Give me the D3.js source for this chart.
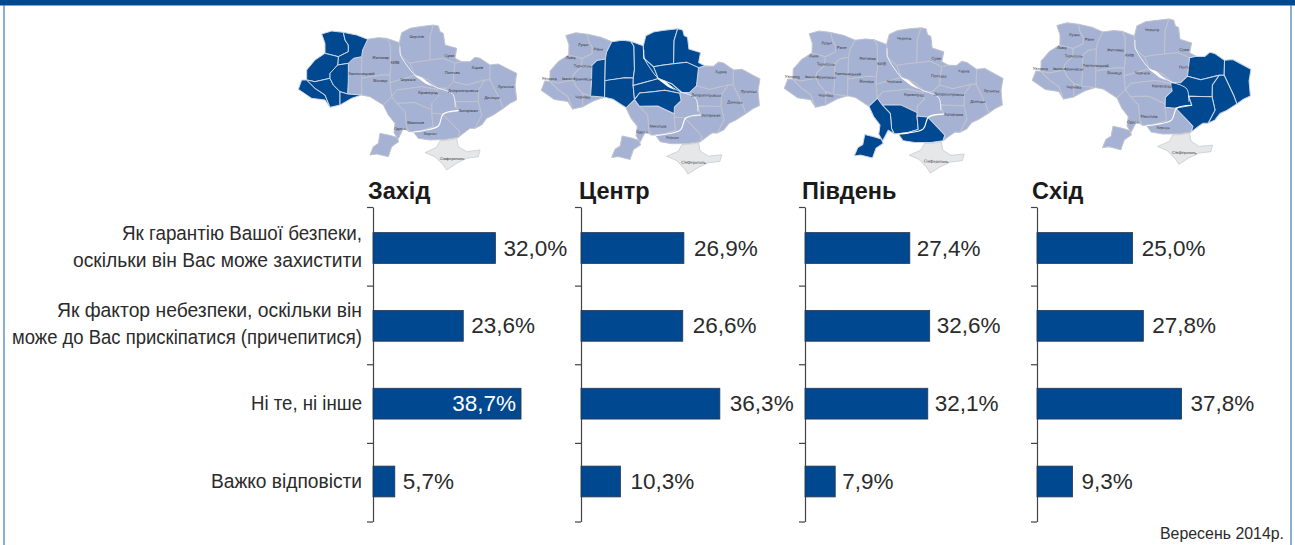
<!DOCTYPE html>
<html><head><meta charset="utf-8">
<script src="https://cdn.jsdelivr.net/npm/d3@7"></script>
<style>html,body{margin:0;padding:0;background:#fff}svg{display:block}</style>
</head><body><svg id="c" width="1295" height="545"></svg>
<script>
const categories = [
  ["Як гарантію Вашої безпеки,", "оскільки він Вас може захистити"],
  ["Як фактор небезпеки, оскільки він", "може до Вас прискіпатися (причепитися)"],
  ["Ні те, ні інше"],
  ["Важко відповісти"]
];
const categoryWidths = [[240,289],[305,350],[111],[151]];
const panels = ["Захід", "Центр", "Південь", "Схід"];
const zakhid  = [32.0, 23.6, 38.7, 5.7];
const tsentr  = [26.9, 26.6, 36.3, 10.3];
const pivden  = [27.4, 32.6, 32.1, 7.9];
const skhid   = [25.0, 27.8, 37.8, 9.3];
const seriesValues = [zakhid, tsentr, pivden, skhid];
const footnote = "Вересень 2014р.";

const oblasts = {
  Volyn:[[95,102],[125,93],[160,97],[165,120],[175,135],[175,155],[145,170],[105,160],[105,130]],
  Rivne:[[160,97],[200,105],[233,118],[218,150],[215,170],[190,175],[175,190],[143,195],[145,170],[175,155],[175,135],[165,120]],
  Lviv:[[105,160],[75,180],[50,210],[50,240],[75,245],[120,235],[120,220],[143,195],[145,170]],
  Zakarpattia:[[50,240],[35,240],[25,268],[65,295],[105,300],[120,322],[105,285],[75,265]],
  Frankivsk:[[50,240],[75,245],[120,235],[130,255],[150,275],[150,315],[120,322],[105,285],[75,265]],
  Ternopil:[[143,195],[175,190],[175,240],[173,282],[150,275],[130,255],[120,235],[120,220]],
  Chernivtsi:[[150,275],[173,282],[215,285],[185,295],[150,315]],
  Khmelnytskyi:[[175,190],[190,175],[215,170],[215,235],[215,285],[173,282],[175,240]],
  Zhytomyr:[[233,118],[265,113],[290,115],[300,130],[303,200],[300,225],[275,225],[215,235],[215,170],[218,150]],
  Vinnytsia:[[215,235],[275,225],[300,225],[300,248],[305,290],[280,315],[240,290],[215,285]],
  Kyiv:[[290,115],[328,128],[330,165],[360,190],[375,225],[355,232],[300,248],[300,225],[303,200],[300,130]],
  Chernihiv:[[335,98],[360,85],[390,80],[430,75],[420,110],[420,180],[385,185],[360,190],[330,165],[328,128]],
  Sumy:[[430,75],[445,78],[450,95],[460,100],[465,135],[500,145],[495,175],[515,185],[495,190],[460,175],[420,180],[420,110]],
  Poltava:[[385,185],[420,180],[460,175],[495,190],[490,245],[470,265],[445,265],[415,240],[375,225],[360,190]],
  Cherkasy:[[300,248],[355,232],[375,225],[415,240],[445,265],[440,268],[395,260],[360,265],[320,270],[305,290]],
  Kharkiv:[[515,185],[540,185],[555,172],[570,175],[600,195],[600,240],[585,240],[530,255],[490,245],[495,190]],
  Luhansk:[[600,195],[625,192],[660,210],[680,220],[675,255],[680,300],[660,310],[640,325],[630,300],[600,240]],
  Donetsk:[[585,240],[600,240],[630,300],[640,325],[610,345],[590,355],[575,375],[555,385],[575,345],[565,305],[565,270]],
  Dnipro:[[445,265],[470,265],[490,245],[530,255],[585,240],[565,270],[565,305],[495,305],[505,332],[455,342],[425,340],[425,330],[425,310],[445,290],[440,268]],
  Kirovohrad:[[305,290],[320,270],[360,265],[395,260],[440,268],[445,290],[425,310],[425,330],[375,308],[320,310]],
  Mykolaiv:[[320,310],[375,308],[425,330],[425,340],[430,380],[400,390],[370,395],[358,395],[350,380],[345,335]],
  OdesaNorth:[[280,315],[305,290],[320,310],[345,335],[350,380],[358,395],[340,385],[332,402],[324,418],[312,398],[315,370],[295,345]],
  OdesaSouth:[[270,400],[295,405],[320,412],[326,425],[305,440],[295,470],[260,462],[240,465],[250,440],[265,430]],
  Kherson:[[425,340],[455,342],[460,345],[490,375],[510,395],[505,412],[470,418],[420,420],[385,415],[370,395],[400,390],[430,380]],
  Zaporizhzhia:[[495,305],[565,305],[575,345],[555,385],[540,385],[520,400],[505,412],[510,395],[490,375],[460,345],[455,342],[505,332]]
};
const crimea = [[405,458],[440,442],[450,422],[480,420],[500,415],[505,440],[530,455],[570,450],[565,470],[530,475],[500,490],[470,510],[460,495],[435,470]];
const dnipro = [[330,140],[332,165],[350,195],[375,225],[400,238],[420,252],[445,265],[470,272],[490,285],[496,322]];
const lower = [[505,332],[460,342],[445,378],[400,392],[370,396]];
const lake = [[372,226],[395,232],[428,260],[405,250]];
const highlighted = [
  ["Volyn","Rivne","Lviv","Zakarpattia","Frankivsk","Ternopil","Chernivtsi"],
  ["Khmelnytskyi","Zhytomyr","Vinnytsia","Kyiv","Chernihiv","Sumy","Poltava","Cherkasy","Kirovohrad"],
  ["Mykolaiv","OdesaNorth","OdesaSouth","Kherson"],
  ["Kharkiv","Luhansk","Donetsk","Dnipro","Zaporizhzhia"]
];
const cityLabels = [
  ["Чернігів",380,108,"Chernihiv"],["Суми",478,165,"Sumy"],["Харків",562,201,"Kharkiv"],["Полтава",487,218,"Poltava"],
  ["Луганськ",647,258,"Luhansk"],["Донецьк",606,291,"Donetsk"],["Дніпропетровськ",520,272,"Dnipro"],["Запоріжжя",535,332,"Zaporizhzhia"],
  ["Кіровоград",414,276,"Kirovohrad"],["Черкаси",354,238,"Cherkasy"],["КИЇВ",315,186,"Kyiv"],["Житомир",272,171,"Zhytomyr"],
  ["Вінниця",271,240,"Vinnytsia"],["Хмельницький",214,219,"Khmelnytskyi"],["Одеса",329,386,"OdesaNorth"],["Миколаїв",377,368,"Mykolaiv"],
  ["Херсон",420,401,"Kherson"],["Сімферополь",486,474,"Crimea"],["Луцьк",148,128,"Volyn"],["Рівне",194,141,"Rivne"],
  ["Львів",111,168,"Lviv"],["Тернопіль",148,192,"Ternopil"],["Івано-Франківськ",132,231,"Frankivsk"],["Ужгород",48,232,"Zakarpattia"],["Чернівці",150,285,"Chernivtsi"]
];
// dx, dy, rotation of each small map relative to the first
const mapPlacement = [[290,0,0],[533,1,1.2],[776,-1,1.6],[1024,-9,1.3]];

const ink = "#2b2b2b", blue = "#004990", lightBlue = "#a6b2d4", seam = "#bfc3cc";
const sans = "'Liberation Sans',Arial,sans-serif";

const svg = d3.select("#c");
svg.append("rect").attr("x",0).attr("y",0).attr("width",1295).attr("height",5.5).attr("fill",blue);
svg.append("line").attr("x1",4).attr("x2",4).attr("y1",5).attr("y2",545).attr("stroke","#3f78b5").attr("stroke-width",1.2);
svg.append("line").attr("x1",1291).attr("x2",1291).attr("y1",5).attr("y2",545).attr("stroke","#3f78b5").attr("stroke-width",1.2);

// maps
const mx = d3.scaleLinear().domain([0,3]).range([0,1]);
const my = d3.scaleLinear().domain([0,3]).range([0,1]);
const outline = d3.line().x(d=>mx(d[0])).y(d=>my(d[1])).curve(d3.curveLinearClosed);
const stream = d3.line().x(d=>mx(d[0])).y(d=>my(d[1])).curve(d3.curveCatmullRom);

mapPlacement.forEach((p,i)=>{
  const g = svg.append("g").attr("transform",`translate(${p[0]},${p[1]}) rotate(${p[2]} 10 90)`);
  const hot = highlighted[i];
  g.append("path").attr("d",outline(crimea)).attr("fill","#e6e7e9").attr("stroke","#c9cbcf").attr("stroke-width",0.8);
  const names = Object.keys(oblasts);
  const ordered = names.filter(n=>!hot.includes(n)).concat(names.filter(n=>hot.includes(n)));
  g.selectAll("path.ob").data(ordered).enter().append("path").attr("class","ob")
    .attr("d",n=>outline(oblasts[n]))
    .attr("fill",n=>hot.includes(n)?blue:lightBlue)
    .attr("stroke",n=>hot.includes(n)?"#cdd6e6":seam)
    .attr("stroke-width",1).attr("stroke-linejoin","round");
  g.append("path").attr("d",stream(dnipro)).attr("fill","none").attr("stroke","#fff").attr("stroke-width",0.8);
  g.append("path").attr("d",stream(lower)).attr("fill","none").attr("stroke","#fff").attr("stroke-width",1.1);
  g.append("path").attr("d",outline(lake)).attr("fill","#fff");
  g.selectAll("text.city").data(cityLabels.filter(c=>!hot.includes(c[3]))).enter().append("text").attr("class","city")
    .attr("x",c=>mx(c[1])).attr("y",c=>my(c[2])+1.5)
    .attr("text-anchor","middle").attr("font-family",sans).attr("font-size",3.9).attr("fill","#333").text(c=>c[0]);
});

// bar panels
const axisX = [373,581,805,1037];
const titleX = [368,579,802,1032];
const labelGap = [8,10,7,9];
const y = d3.scaleLinear().domain([0,categories.length]).range([207,521.5]);
const barCentre = d3.scaleLinear().domain([0,categories.length-1]).range([248,481.5]);
const w = d3.scaleLinear().domain([0,40]).range([0,153]);

panels.forEach((name,pi)=>{
  const g = svg.append("g").attr("transform",`translate(${axisX[pi]},0)`);
  svg.append("text").attr("x",titleX[pi]).attr("y",199).attr("font-family",sans).attr("font-weight","700")
    .attr("font-size",23.5).attr("fill","#1a1a1a").text(name);
  const axis = d3.axisLeft(y).tickValues(d3.range(categories.length+1)).tickSize(6).tickSizeOuter(0).tickFormat("");
  const ag = g.append("g").call(axis);
  ag.selectAll("path,line").attr("stroke","#444").attr("stroke-width",1.2);
  seriesValues[pi].forEach((v,i)=>{
    const cy = barCentre(i);
    g.append("rect").attr("x",0).attr("y",cy-15.4).attr("width",w(v)).attr("height",30.8)
      .attr("fill",blue).attr("stroke","#2a3550").attr("stroke-width",0.8);
    const inside = v===38.7;
    g.append("text").attr("x",inside?w(v)-5:w(v)+labelGap[pi]).attr("y",cy+7.5)
      .attr("text-anchor",inside?"end":"start").attr("font-family",sans).attr("font-size",22.5)
      .attr("fill",inside?"#fff":ink).text(v.toFixed(1).replace(".",",")+"%");
  });
});

// category labels
categories.forEach((lines,i)=>{
  const cy = barCentre(i);
  lines.forEach((t,k)=>{
    svg.append("text").attr("x",362).attr("y",cy+6+(k-(lines.length-1)/2)*27-(i<2?1:0))
      .attr("text-anchor","end").attr("font-family",sans).attr("font-size",20.5).attr("fill",ink)
      .attr("textLength",categoryWidths[i][k]).attr("lengthAdjust","spacingAndGlyphs").text(t);
  });
});

svg.append("text").attr("x",1284).attr("y",539).attr("text-anchor","end").attr("font-family",sans)
  .attr("font-size",16.5).attr("fill",ink).attr("textLength",124).attr("lengthAdjust","spacingAndGlyphs").text(footnote);
</script></body></html>
